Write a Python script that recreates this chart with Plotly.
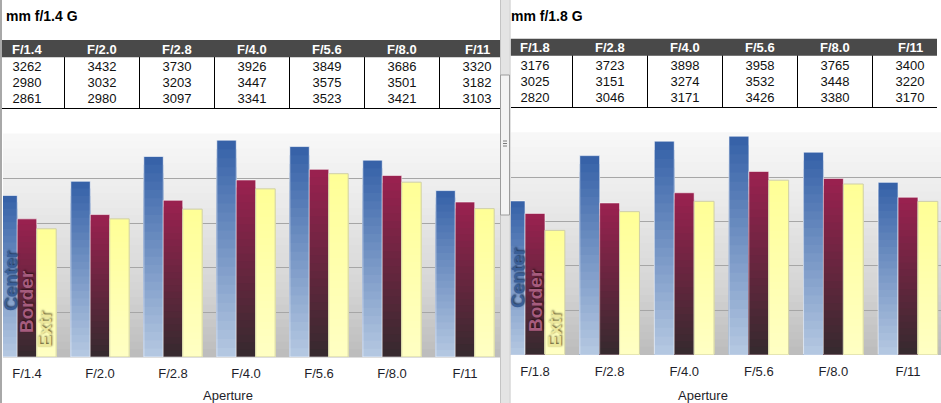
import plotly.graph_objects as go

W, H = 941, 403
FONT = "Liberation Sans, Arial, sans-serif"

# ---------------- data ----------------
left_title = "mm f/1.4 G"
right_title = "mm f/1.8 G"
left_apertures = ["F/1.4", "F/2.0", "F/2.8", "F/4.0", "F/5.6", "F/8.0", "F/11"]
left_center = [3262, 3432, 3730, 3926, 3849, 3686, 3320]
left_border = [2980, 3032, 3203, 3447, 3575, 3501, 3182]
left_extreme = [2861, 2980, 3097, 3341, 3523, 3421, 3103]
right_apertures = ["F/1.8", "F/2.8", "F/4.0", "F/5.6", "F/8.0", "F/11"]
right_center = [3176, 3723, 3898, 3958, 3765, 3400]
right_border = [3025, 3151, 3274, 3532, 3448, 3220]
right_extreme = [2820, 3046, 3171, 3426, 3380, 3170]
series_names = ["Center", "Border", "Extr"]
axis_title = "Aperture"

# ---------------- styles ----------------
Y_MIN, Y_MAX, Y_STEP = 1320, 4000, 536
K = 24  # gradient steps per bar
series_top = [(52, 96, 167), (155, 33, 80), (255, 255, 150)]
series_bot = [(182, 201, 226), (53, 42, 46), (255, 255, 196)]
series_outline = ["rgba(255,255,255,0.6)", "rgba(255,255,255,0.55)", "#cfcfa8"]
legend_color = ["#3a5f98", "#a65c7e", "#ece79c"]
legend_shadow = ["1px 1px 2px #1c3358", "1px 1px 2px #2a1018", "1px 1px 2px #5a5630"]


def px(x):
    return x / W


def py(y):
    return 1 - y / H


def mix(c0, c1, t):
    return "rgb(%d,%d,%d)" % tuple(round(a + (b - a) * t) for a, b in zip(c0, c1))


panels = [
    dict(title=left_title, cats=left_apertures,
         vals=[left_center, left_border, left_extreme],
         xa="x", ya="y", xt="x3", yt="y3",
         plot_x=(3, 500), plot_y=(134, 357), cat0=27, cat_step=73,
         tab_x=(2, 500), col0=27, col_step=75,
         hdr_top=40, hdr_bot=57.3, cells_bot=107.5, row0=68, hdr_text=49.2,
         title_xy=(4, 16), axtitle_xy=(227.5, 395),
         legend_xy=[(10, 281), (26, 302), (44, 329)]),
    dict(title=right_title, cats=right_apertures,
         vals=[right_center, right_border, right_extreme],
         xa="x2", ya="y2", xt="x4", yt="y4",
         plot_x=(510.5, 941), plot_y=(132.7, 354.5), cat0=535, cat_step=74.6,
         tab_x=(510.5, 937), col0=535, col_step=75,
         hdr_top=38.5, hdr_bot=55.7, cells_bot=107, row0=66.5, hdr_text=48,
         title_xy=(509, 16), axtitle_xy=(702.5, 395),
         legend_xy=[(517, 278), (535, 301), (554, 329)]),
]

ROW_PX = 16

fig = go.Figure()
shapes = []
annotations = []
layout_axes = {}

for p in panels:
    xa, ya, xt, yt = p["xa"], p["ya"], p["xt"], p["yt"]
    cats = p["cats"]

    # ----- bars (gradient = overlaid shorter bars from the bottom) -----
    for s, vals in enumerate(p["vals"]):
        for k in range(K):
            frac = (K - k) / K
            t = (k + 0.5) / K  # 0 -> top colour, 1 -> bottom colour
            fig.add_trace(go.Bar(
                x=cats, y=[(v - Y_MIN) * frac for v in vals], base=Y_MIN,
                offsetgroup=str(s), xaxis=xa, yaxis=ya,
                marker=dict(color=mix(series_top[s], series_bot[s], t), line=dict(width=0)),
                showlegend=False, hoverinfo="skip", name=series_names[s]))
        fig.add_trace(go.Bar(
            x=cats, y=[v - Y_MIN for v in vals], base=Y_MIN,
            offsetgroup=str(s), xaxis=xa, yaxis=ya, name=series_names[s],
            marker=dict(color="rgba(0,0,0,0)", line=dict(color=series_outline[s], width=1)),
            showlegend=False, hovertemplate="%{x}: %{customdata}<extra>" + series_names[s] + "</extra>",
            customdata=vals))

    # ----- table cell text -----
    cell_x, cell_y, cell_t = [], [], []
    for r, vals in enumerate(p["vals"]):
        for c, v in zip(cats, vals):
            cell_x.append(c)
            cell_y.append(r)
            cell_t.append(str(v))
    fig.add_trace(go.Scatter(
        x=cell_x, y=cell_y, text=cell_t, mode="text", xaxis=xt, yaxis=yt,
        textfont=dict(family=FONT, size=13, color="#111111"),
        showlegend=False, hoverinfo="skip"))

    # ----- axes -----
    x0p, x1p = p["plot_x"]
    y0p, y1p = p["plot_y"]
    xr0 = (x0p - p["cat0"]) / p["cat_step"]
    xr1 = (x1p - p["cat0"]) / p["cat_step"]
    axn = lambda a: ("xaxis" if a[0] == "x" else "yaxis") + a[1:]
    layout_axes[axn(xa)] = dict(
        domain=[px(x0p), px(x1p)], anchor=ya, type="category", categoryarray=cats,
        range=[xr0, xr1], showgrid=False, zeroline=False, showline=False, ticks="",
        tickfont=dict(family=FONT, size=13, color="#1e1e2a"), ticklabelstandoff=7,
        fixedrange=True)
    layout_axes[axn(ya)] = dict(
        domain=[py(y1p), py(y0p)], anchor=xa, range=[Y_MIN, Y_MAX], tick0=Y_MIN, dtick=Y_STEP,
        showgrid=True, gridcolor="#a6a6a6", gridwidth=1, showticklabels=False,
        zeroline=False, ticks="", fixedrange=True)

    tx0, tx1 = p["tab_x"]
    layout_axes[axn(xt)] = dict(
        domain=[px(tx0), px(tx1)], anchor=yt, type="category", categoryarray=cats,
        range=[(tx0 - p["col0"]) / p["col_step"], (tx1 - p["col0"]) / p["col_step"]],
        tickson="boundaries", showgrid=True, gridcolor="#000000", gridwidth=1,
        showticklabels=False, ticks="", zeroline=False,
        showline=True, linecolor="#000000", linewidth=1, fixedrange=True)
    ybot = (p["cells_bot"] - p["row0"]) / ROW_PX
    ytop = (p["hdr_top"] - p["row0"]) / ROW_PX
    layout_axes[axn(yt)] = dict(
        domain=[py(p["cells_bot"]), py(p["hdr_top"])], anchor=xt, range=[ybot, ytop],
        showgrid=False, showticklabels=False, ticks="", zeroline=False, showline=False,
        fixedrange=True)

    # header band (drawn above the column grid lines) + header labels as annotations
    shapes.append(dict(type="rect", xref=xt + " domain", yref=yt, x0=0, x1=1,
                       y0=ytop, y1=(p["hdr_bot"] - p["row0"]) / ROW_PX,
                       fillcolor="#494949", line=dict(width=0), layer="above"))
    hdr_row = (p["hdr_text"] - p["row0"]) / ROW_PX
    for c in cats:
        annotations.append(dict(text=c, xref=xt, yref=yt, x=c, y=hdr_row,
                                xanchor="center", yanchor="middle", showarrow=False,
                                font=dict(family=FONT, size=13, color="white", weight="bold")))

    # plot background gradient
    stops = [(0.0, (248, 248, 248)), (0.35, (232, 232, 232)), (0.7, (212, 212, 212)), (1.0, (188, 188, 188))]
    N = 30
    for i in range(N):
        t = (i + 0.5) / N
        col = None
        for j in range(len(stops) - 1):
            if stops[j][0] <= t <= stops[j + 1][0]:
                tt = (t - stops[j][0]) / (stops[j + 1][0] - stops[j][0])
                col = mix(stops[j][1], stops[j + 1][1], tt)
                break
        shapes.append(dict(type="rect", xref=xa + " domain", yref=ya + " domain",
                           x0=0, x1=1, y0=1 - i / N + 0.002, y1=1 - (i + 1) / N - 0.002,
                           fillcolor=col, line=dict(width=0), layer="below"))

    # titles
    annotations.append(dict(text=p["title"], xref="paper", yref="paper",
                            x=px(p["title_xy"][0]), y=py(p["title_xy"][1]),
                            xanchor="left", yanchor="middle", showarrow=False,
                            font=dict(family=FONT, size=14, color="#000000", weight="bold")))
    annotations.append(dict(text=axis_title, xref="paper", yref="paper",
                            x=px(p["axtitle_xy"][0]), y=py(p["axtitle_xy"][1]),
                            xanchor="center", yanchor="middle", showarrow=False,
                            font=dict(family=FONT, size=13, color="#1e1e2a")))
    # in-plot legend (rotated series names)
    for s, name in enumerate(series_names):
        lx, ly = p["legend_xy"][s]
        annotations.append(dict(text=name, xref="paper", yref="paper", x=px(lx), y=py(ly),
                                xanchor="center", yanchor="middle", textangle=-90, showarrow=False,
                                font=dict(family=FONT, size=19, color=legend_color[s], weight="bold",
                                          shadow=legend_shadow[s])))

# page chrome: left border, divider strip, scroll thumb
shapes += [
    dict(type="line", xref="paper", yref="paper", x0=px(1), x1=px(1), y0=0, y1=1,
         line=dict(color="#a8a8a8", width=2), layer="above"),
    dict(type="rect", xref="paper", yref="paper", x0=px(500), x1=px(510.5), y0=0, y1=1,
         fillcolor="#e4e4e4", line=dict(width=0), layer="above"),
    dict(type="line", xref="paper", yref="paper", x0=px(500.5), x1=px(500.5), y0=0, y1=1,
         line=dict(color="#c4c4c4", width=1), layer="above"),
    dict(type="line", xref="paper", yref="paper", x0=px(510), x1=px(510), y0=0, y1=1,
         line=dict(color="#d2d2d2", width=1), layer="above"),
    dict(type="rect", xref="paper", yref="paper", x0=px(500.5), x1=px(509.5), y0=py(215), y1=py(75),
         fillcolor="#f3f3f3", line=dict(color="#9c9c9c", width=1), layer="above"),
]
for gy in (141, 143.5, 146):
    shapes.append(dict(type="line", xref="paper", yref="paper", x0=px(503), x1=px(507),
                       y0=py(gy), y1=py(gy), line=dict(color="#7a7a7a", width=1), layer="above"))

fig.update_layout(
    width=W, height=H, autosize=False,
    margin=dict(l=0, r=0, t=0, b=0, pad=0),
    paper_bgcolor="white", plot_bgcolor="rgba(0,0,0,0)",
    barmode="group", bargap=0.2, bargroupgap=0.0,
    showlegend=False, shapes=shapes, annotations=annotations,
    font=dict(family=FONT, color="#222222"),
    **layout_axes)

fig.write_html("out.html", config={"displayModeBar": False})
